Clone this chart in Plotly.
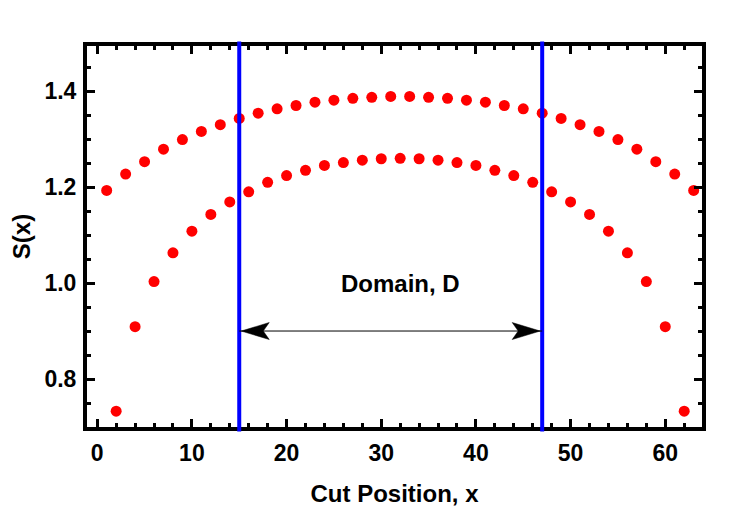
import plotly.graph_objects as go

# ---- data ----
odd_x = [1, 3, 5, 7, 9, 11, 13, 15, 17, 19, 21, 23, 25, 27, 29, 31,
         33, 35, 37, 39, 41, 43, 45, 47, 49, 51, 53, 55, 57, 59, 61, 63]
odd_s = [1.193, 1.227, 1.253, 1.279, 1.299, 1.316, 1.330, 1.343, 1.354, 1.363,
         1.370, 1.377, 1.381, 1.385, 1.387, 1.389, 1.389, 1.387, 1.385, 1.381,
         1.377, 1.370, 1.363, 1.354, 1.343, 1.330, 1.316, 1.299, 1.279, 1.253,
         1.227, 1.193]
even_x = [2, 4, 6, 8, 10, 12, 14, 16, 18, 20, 22, 24, 26, 28, 30, 32,
          34, 36, 38, 40, 42, 44, 46, 48, 50, 52, 54, 56, 58, 60, 62]
even_s = [0.733, 0.909, 1.003, 1.063, 1.108, 1.143, 1.169, 1.190, 1.210, 1.224,
          1.235, 1.245, 1.251, 1.256, 1.259, 1.260, 1.259, 1.256, 1.251, 1.245,
          1.235, 1.224, 1.210, 1.190, 1.169, 1.143, 1.108, 1.063, 1.003, 0.909,
          0.733]
domain_bounds = [15, 47]
arrow_y = 0.9
label_pos = [32, 1.0]
x_ticks = [0, 10, 20, 30, 40, 50, 60]
y_ticks = [0.8, 1.0, 1.2, 1.4]

FONT = "Liberation Sans"
RED = "#ff0000"

fig = go.Figure()
fig.add_trace(go.Scatter(x=odd_x, y=odd_s, mode="markers",
                         marker=dict(color=RED, size=11), showlegend=False))
fig.add_trace(go.Scatter(x=even_x, y=even_s, mode="markers",
                         marker=dict(color=RED, size=11), showlegend=False))

shapes = []
for xb in domain_bounds:
    shapes.append(dict(type="line", xref="x", yref="paper", x0=xb, x1=xb,
                       y0=-0.012, y1=1.012, line=dict(color="#0000ff", width=4),
                       layer="above"))
# double arrow
shapes.append(dict(type="line", xref="x", yref="y", x0=domain_bounds[0], x1=domain_bounds[1],
                   y0=arrow_y, y1=arrow_y, line=dict(color="black", width=1)))
shapes.append(dict(type="path", xref="x", yref="y", xsizemode="pixel", ysizemode="pixel",
                   xanchor=domain_bounds[0], yanchor=arrow_y,
                   path="M2,0 L30,8.5 L24,0 L30,-8.5 Z",
                   fillcolor="black", line=dict(color="black", width=0.5)))
shapes.append(dict(type="path", xref="x", yref="y", xsizemode="pixel", ysizemode="pixel",
                   xanchor=domain_bounds[1], yanchor=arrow_y,
                   path="M-2,0 L-30,8.5 L-24,0 L-30,-8.5 Z",
                   fillcolor="black", line=dict(color="black", width=0.5)))

axis_common = dict(
    showline=True, linewidth=4, linecolor="black", mirror="allticks",
    ticks="inside", ticklen=8, tickwidth=3, tickcolor="black",
    showgrid=False, zeroline=False, automargin=False,
    tickfont=dict(family=FONT, size=23, color="black", weight="bold"),
)

fig.update_layout(
    width=750, height=511,
    margin=dict(l=87, r=48, t=46, b=84),
    paper_bgcolor="white", plot_bgcolor="white",
    shapes=shapes,
    annotations=[dict(x=label_pos[0], y=label_pos[1], xref="x", yref="y",
                      text="Domain, D", showarrow=False,
                      font=dict(family=FONT, size=24, color="black", weight="bold"))],
    xaxis=dict(range=[-1.08, 63.88], tickvals=x_ticks, ticklabelstandoff=2,
               minor=dict(dtick=2, ticks="inside", ticklen=4, tickwidth=3, tickcolor="black"),
               title=dict(text="Cut Position, x", standoff=22,
                          font=dict(family=FONT, size=24, color="black", weight="bold")),
               **axis_common),
    yaxis=dict(range=[0.7, 1.494], tickvals=y_ticks, tickformat=".1f", ticklabelstandoff=2,
               minor=dict(dtick=0.05, tick0=0.7, ticks="inside", ticklen=4, tickwidth=3, tickcolor="black"),
               title=dict(text="S(x)", standoff=8,
                          font=dict(family=FONT, size=24, color="black", weight="bold")),
               **axis_common),
)

fig.write_html("out.html")
